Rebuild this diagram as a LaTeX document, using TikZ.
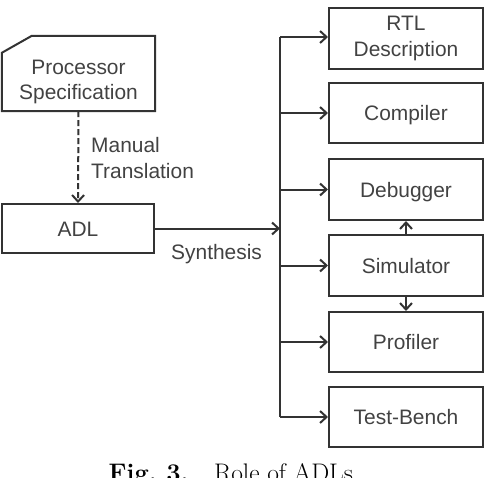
\documentclass[tikz,border=0pt]{standalone}
\usepackage{fontspec}
\newfontfamily\diasans{Liberation Sans}
\usetikzlibrary{arrows.meta,calc}
\definecolor{linec}{HTML}{333333}
\definecolor{textc}{HTML}{424242}
\begin{document}
\begin{tikzpicture}[x=1bp,y=-1bp,
  every node/.style={font=\diasans\fontsize{21}{26}\selectfont, text=textc, inner sep=0pt},
  line/.style={draw=linec, line width=2bp},
  boxnode/.style={line, rectangle, minimum width=154bp, minimum height=60bp, text height=15bp, text depth=0bp},
  arr/.style={line, -{Straight Barb[length=6.5bp,width=12bp]}},
  dashline/.style={arr, dash pattern=on 6bp off 3bp}]
\useasboundingbox (0,0) rectangle (488,478);
% Processor specification (box with a cut corner)
\node[minimum width=153bp, minimum height=75bp] (ps) at (78.5,73.5) {};
\draw[line, line join=miter] ($(ps.north west)+(0,17)$) -- ($(ps.north west)+(30,0)$) -- (ps.north east) -- (ps.south east) -- (ps.south west) -- cycle;
\node[align=center] (pstext) at (78.5,82) {Processor\\Specification};
% ADL
\node[boxnode, minimum width=152bp, minimum height=49bp] (adl) at (78,228.5) {ADL};
\draw[dashline] (ps.south) -- (adl.north);
\node[align=left, anchor=west] (mt) at (91,158) {Manual\\Translation};
% right column
\node[line, rectangle, minimum width=154bp, minimum height=61bp, align=center] (rtl) at (406,38.5) {RTL\\Description};
\node[boxnode] (comp) at (406,113) {Compiler};
\node[boxnode, minimum height=61bp] (dbg) at (406,189.5) {Debugger};
\node[boxnode, minimum height=61bp] (sim) at (406,265.5) {Simulator};
\node[boxnode] (prof) at (406,342) {Profiler};
\node[boxnode] (tb) at (406,417) {Test-Bench};
% bus
\coordinate (bt) at (280,37);
\coordinate (bb) at (280,417);
\draw[line] (bt) -- (bb);
\draw[arr] (bt) -- (bt -| rtl.west);
\draw[arr] (bt |- comp.west) -- (comp.west);
\draw[arr] (bt |- dbg.west) -- (dbg.west);
\draw[arr] (bt |- sim.west) -- (sim.west);
\draw[arr] (bt |- prof.west) -- (prof.west);
\draw[arr] (bb) -- (tb.west);
\draw[arr] (adl.east) -- (adl.east -| bt);
\node[anchor=base west] (syn) at (171,259) {Synthesis};
\draw[arr] (sim.north) -- (dbg.south);
\draw[arr] (sim.south) -- (prof.north);
% caption
\node[anchor=base, font=\rmfamily\fontsize{25.5}{28}\selectfont, text=black] (cap) at (234,481) {\textbf{Fig.~3.}\quad Role of ADLs.};
\end{tikzpicture}
\end{document}
